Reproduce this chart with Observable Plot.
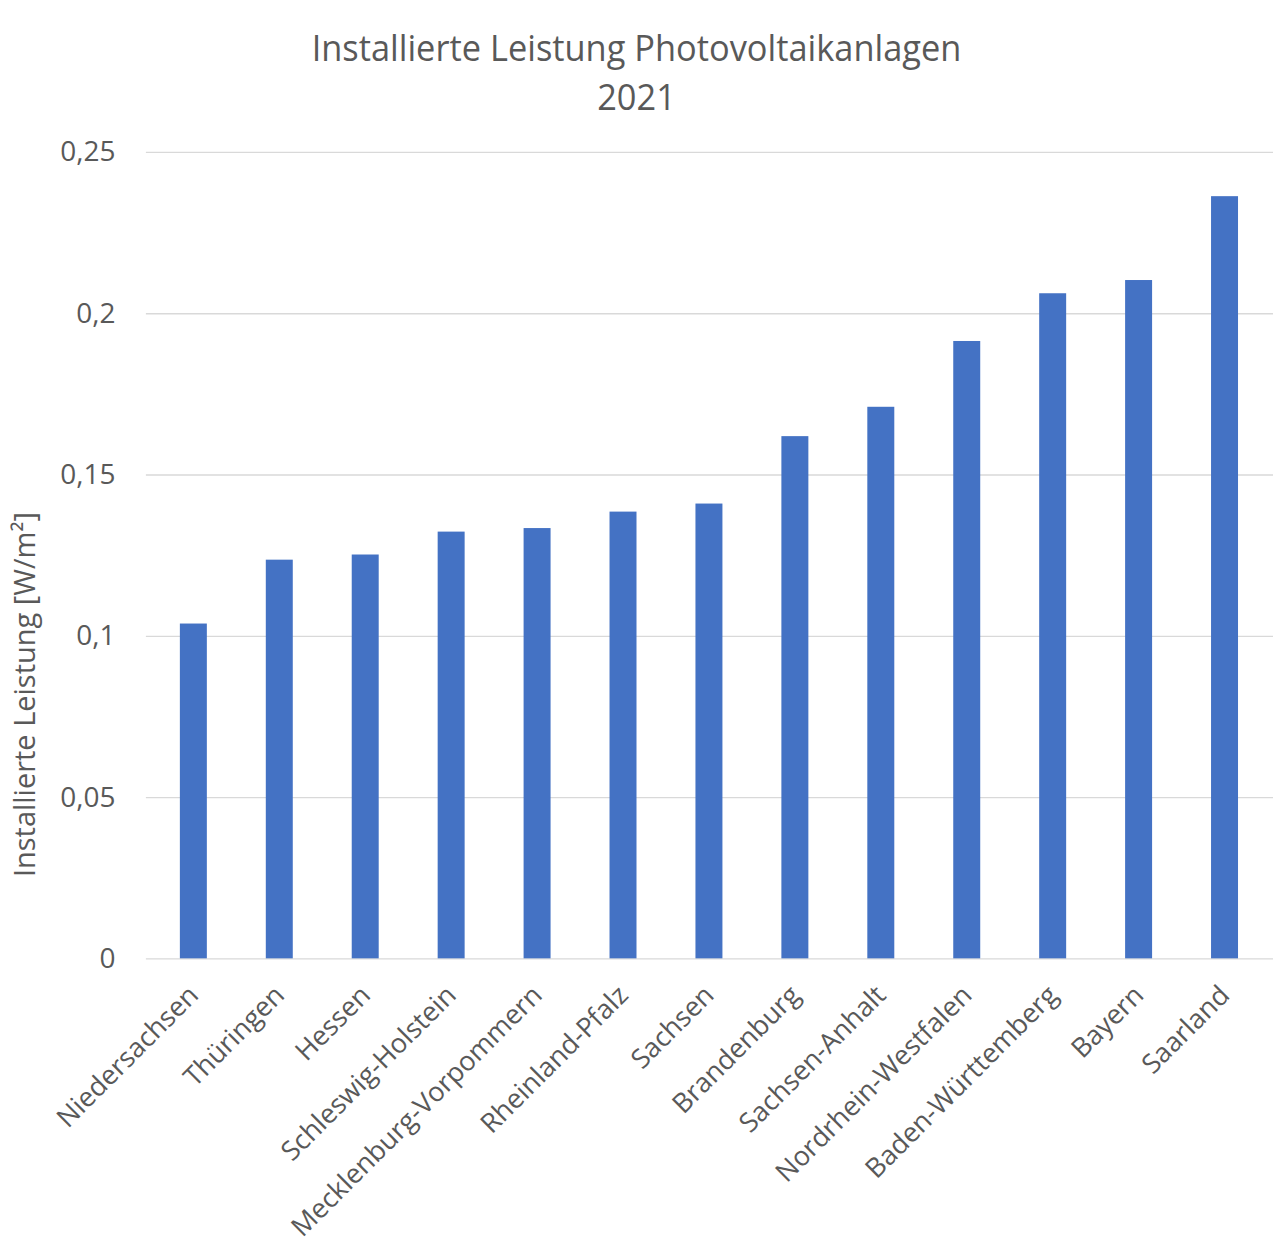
<!DOCTYPE html>
<html>
<head>
<meta charset="utf-8">
<script src="https://cdn.jsdelivr.net/npm/d3@7"></script>
<script src="https://cdn.jsdelivr.net/npm/@observablehq/plot@0.6"></script>
<style>
  html, body { margin: 0; padding: 0; background: #fff; }
  #wrap { width: 1273px; height: 1258px; overflow: hidden; }
  #title { height: 120px; text-align: center; color: #595959; font-family: "Open Sans", sans-serif; position: relative; }
  #title .l1 { position: absolute; left: 0; right: 0; top: 26px; font-size: 36px; line-height: 44px; transform: scaleX(0.955); }
  #title .l2 { position: absolute; left: 0; right: 0; top: 75px; font-size: 36px; line-height: 44px; transform: scaleX(0.955); }
</style>
</head>
<body>
<div id="wrap">
  <div id="title"><div class="l1">Installierte Leistung Photovoltaikanlagen</div><div class="l2">2021</div></div>
  <div id="chart"></div>
</div>
<script>
const states = ["Niedersachsen", "Thüringen", "Hessen", "Schleswig-Holstein", "Mecklenburg-Vorpommern", "Rheinland-Pfalz", "Sachsen", "Brandenburg", "Sachsen-Anhalt", "Nordrhein-Westfalen", "Baden-Württemberg", "Bayern", "Saarland"];
const values = [0.1038, 0.1236, 0.1252, 0.1323, 0.1334, 0.1385, 0.1410, 0.1619, 0.1710, 0.1914, 0.2062, 0.2103, 0.2363];
const yTicks = [0, 0.05, 0.1, 0.15, 0.2, 0.25];
const yLabel = "Installierte Leistung [W/m²]";

const data = states.map((s, i) => ({state: s, value: values[i]}));
const fmt = v => String(v).replace(".", ",");

const chart = Plot.plot({
  width: 1274,
  height: 1138,
  marginTop: 32,
  marginBottom: 299,
  marginLeft: 146,
  marginRight: 0,
  style: {fontFamily: "'Open Sans', sans-serif", color: "#595959", background: "#fff"},
  x: {domain: states, paddingInner: 0.683, paddingOuter: 0.3415},
  y: {domain: [0, 0.25]},
  marks: [
    Plot.gridY(yTicks, {stroke: "#d9d9d9", strokeOpacity: 1, strokeWidth: 1.3}),
    Plot.barY(data, {x: "state", y: "value", fill: "#4472C4"}),
    Plot.axisY(yTicks, {tickSize: 0, tickPadding: 31, tickFormat: fmt, fontSize: 28, label: yLabel, labelAnchor: "center", labelArrow: "none", labelOffset: 132}),
    Plot.axisX({tickSize: 0, tickPadding: 32, tickRotate: -45, fontSize: 27, label: null})
  ]
});
document.getElementById("chart").appendChild(chart);
// y-axis label: larger font, placed lower as in the reference
chart.querySelectorAll("g[aria-label='y-axis label'] text").forEach(t => {
  t.setAttribute("font-size", 29);
  const m = /translate\(([-\d.]+),([-\d.]+)\)/.exec(t.getAttribute("transform") || "");
  if (m) t.setAttribute("transform", `translate(${+m[1]},${+m[2] + 139}) rotate(-90)`);
});
</script>
</body>
</html>
